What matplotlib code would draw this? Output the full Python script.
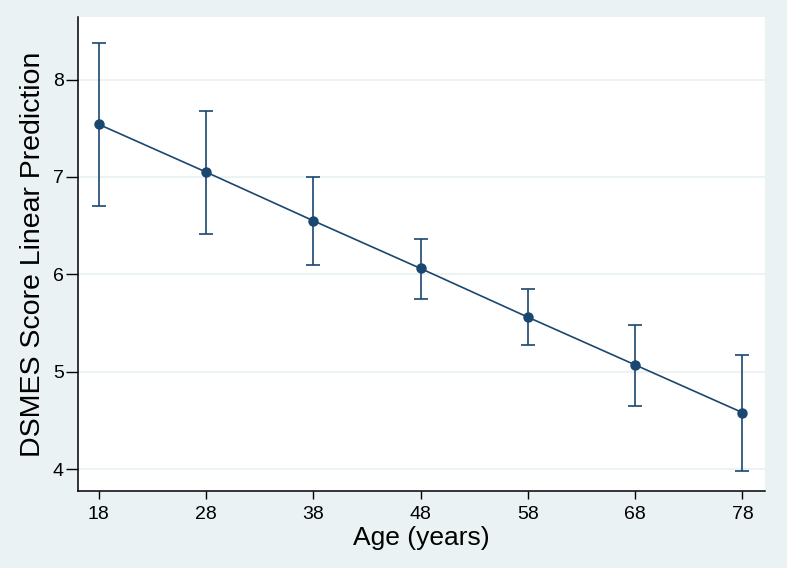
import matplotlib.pyplot as plt
import numpy as np

plt.rcParams['font.family'] = ['Liberation Sans', 'DejaVu Sans']

# predicted score by age, with 95% CI
age = [18, 28, 38, 48, 58, 68, 78]
pred = [7.54, 7.05, 6.55, 6.06, 5.56, 5.07, 4.58]
lo = [6.70, 6.41, 6.10, 5.75, 5.27, 4.65, 3.98]
hi = [8.38, 7.68, 7.00, 6.36, 5.85, 5.48, 5.17]
yticks = [4, 5, 6, 7, 8]

navy = '#1a476f'
bg = '#eaf2f3'

fig = plt.figure(figsize=(7.87, 5.68), dpi=100, facecolor=bg)
ax = fig.add_axes([0.0997, 0.1356, 0.8723, 0.834])
ax.set_facecolor('white')

pred = np.array(pred)
err = [pred - np.array(lo), np.array(hi) - pred]
ax.errorbar(age, pred, yerr=err, fmt='none', ecolor=navy, elinewidth=1.2,
            capsize=5, capthick=1.2, zorder=3)
ax.plot(age, pred, color=navy, lw=1.2, marker='o', ms=6.5, zorder=4)

ax.set_xlim(16.1, 80.1)
ax.set_ylim(3.775, 8.64)
ax.set_xticks(age)
ax.set_yticks(yticks)
ax.grid(axis='y', color=bg, lw=1.3)
ax.set_axisbelow(True)

for s in ['top', 'right']:
    ax.spines[s].set_visible(False)
for s in ['left', 'bottom']:
    ax.spines[s].set_color('black')
    ax.spines[s].set_linewidth(1.1)

ax.tick_params(axis='both', direction='out', width=1, labelsize=14,
               colors='black')
ax.tick_params(axis='y', length=8.5, pad=2)
ax.tick_params(axis='x', length=6, pad=5)

ax.set_xlabel('Age (years)', fontsize=19, labelpad=2)
ax.set_ylabel('DSMES Score Linear Prediction', fontsize=20.5, labelpad=5)

fig.savefig('out.png', dpi=100, facecolor=bg)
